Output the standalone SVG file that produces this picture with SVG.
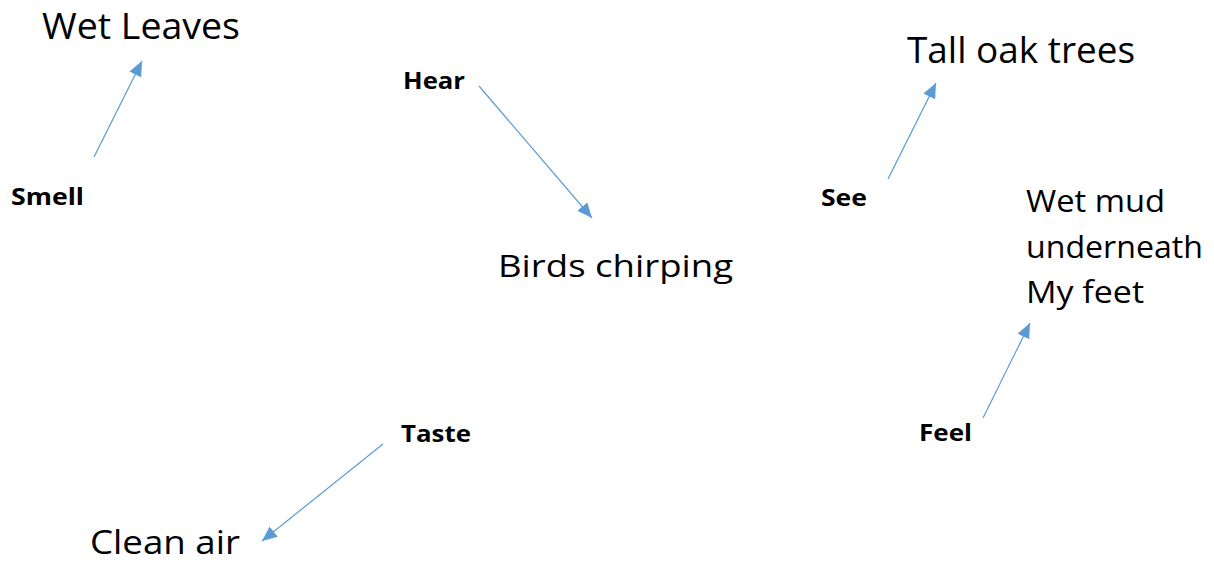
<svg xmlns="http://www.w3.org/2000/svg" width="1214" height="561" viewBox="0 0 1214 561">
  <style>
    .big { font-family: "Open Sans", "Liberation Sans", sans-serif; font-size: 36px; fill: #000; }
    .mid { font-family: "Open Sans", "Liberation Sans", sans-serif; font-size: 31px; fill: #000; }
    .low { font-family: "Open Sans", "Liberation Sans", sans-serif; font-size: 32px; fill: #000; }
    .sense { font-family: "Open Sans", "Liberation Sans", sans-serif; font-size: 23px; font-weight: bold; fill: #000; }
    .link { stroke: #5B9BD5; stroke-width: 1.2; fill: none; marker-end: url(#tip); }
  </style>
  <defs>
    <marker id="tip" markerUnits="userSpaceOnUse" markerWidth="16" markerHeight="14" refX="15" refY="6.5" orient="auto">
      <path d="M0,0 L15,6.5 L0,13 Z" fill="#5B9BD5"/>
    </marker>
  </defs>

  <!-- connectors from each sense to what it notices -->
  <g id="connectors">
    <line class="link" x1="94" y1="157" x2="142" y2="61"/>
    <line class="link" x1="479" y1="86" x2="592" y2="218"/>
    <line class="link" x1="888" y1="179" x2="936" y2="83"/>
    <line class="link" x1="983" y1="418" x2="1030" y2="323"/>
    <line class="link" x1="383" y1="444" x2="262" y2="541"/>
  </g>

  <g id="smell"><text class="sense" x="11" y="205" textLength="73" lengthAdjust="spacingAndGlyphs">Smell</text></g>
  <g id="wet-leaves"><text class="big" x="42" y="39" textLength="198" lengthAdjust="spacingAndGlyphs">Wet Leaves</text></g>

  <g id="hear"><text class="sense" x="403" y="89" textLength="62" lengthAdjust="spacingAndGlyphs">Hear</text></g>
  <g id="birds"><text class="mid" x="498" y="277" textLength="235" lengthAdjust="spacingAndGlyphs">Birds chirping</text></g>

  <g id="see"><text class="sense" x="821" y="206" textLength="46" lengthAdjust="spacingAndGlyphs">See</text></g>
  <g id="oak-trees"><text class="big" x="907" y="63" textLength="228" lengthAdjust="spacingAndGlyphs">Tall oak trees</text></g>

  <g id="feel"><text class="sense" x="919" y="441" textLength="53" lengthAdjust="spacingAndGlyphs">Feel</text></g>
  <g id="wet-mud">
    <text class="mid" x="1026" y="212" textLength="139" lengthAdjust="spacingAndGlyphs">Wet mud</text>
    <text class="mid" x="1026" y="258" textLength="177" lengthAdjust="spacingAndGlyphs">underneath</text>
    <text class="mid" x="1026" y="303" textLength="118" lengthAdjust="spacingAndGlyphs">My feet</text>
  </g>

  <g id="taste"><text class="sense" x="401" y="442" textLength="70" lengthAdjust="spacingAndGlyphs">Taste</text></g>
  <g id="clean-air"><text class="low" x="90" y="554" textLength="150" lengthAdjust="spacingAndGlyphs">Clean air</text></g>
</svg>
